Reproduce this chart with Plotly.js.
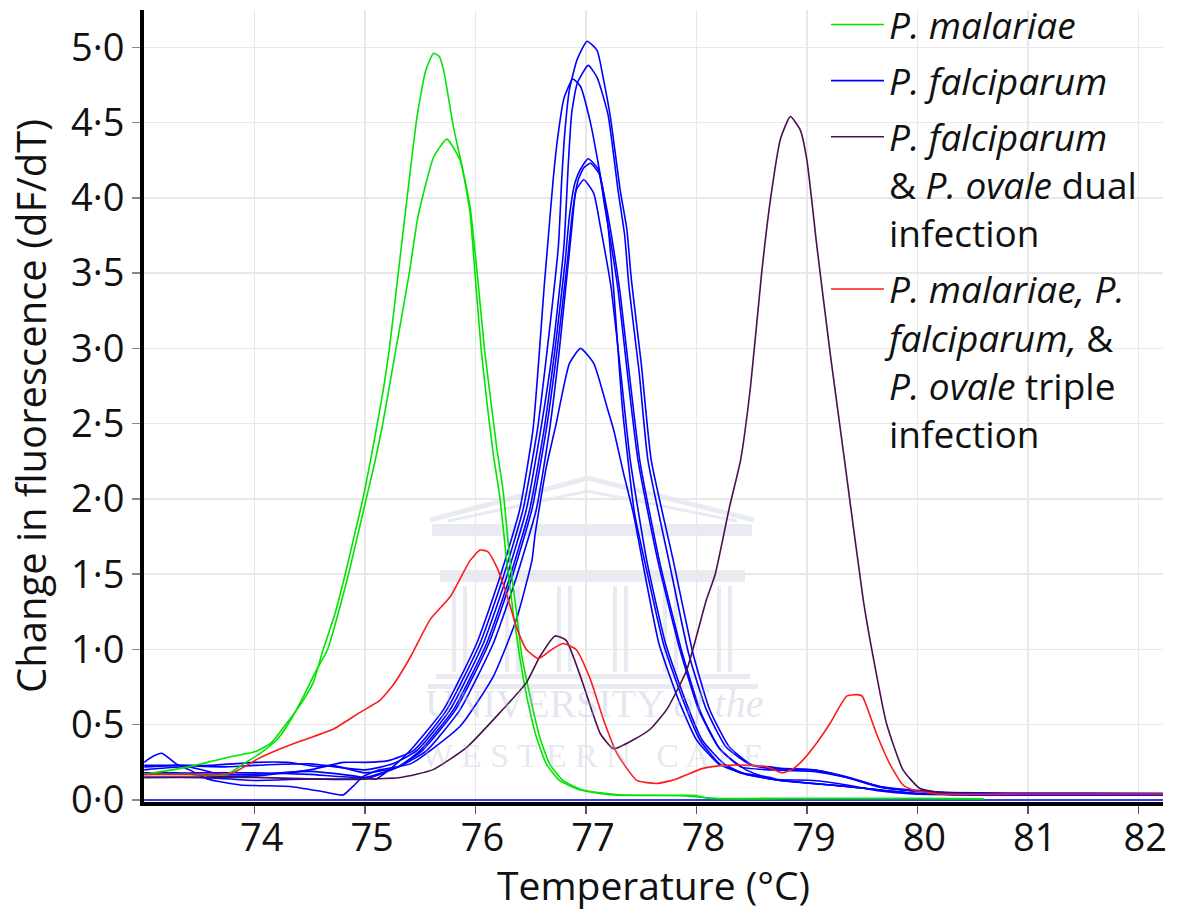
<!DOCTYPE html>
<html>
<head>
<meta charset="utf-8">
<script src="https://cdn.plot.ly/plotly-3.0.1.min.js"></script>
<style>html,body{margin:0;padding:0;background:#fff}#chart{width:1177px;height:911px}</style>
</head>
<body>
<div id="chart"></div>
<script>
// ---------- Data ----------
const xTicks = [74, 75, 76, 77, 78, 79, 80, 81, 82];
const xTickText = ['74', '75', '76', '77', '78', '79', '80', '81', '82'];
const yTicks = [0, 0.5, 1, 1.5, 2, 2.5, 3, 3.5, 4, 4.5, 5];
const yTickText = ['0·0', '0·5', '1·0', '1·5', '2·0', '2·5', '3·0', '3·5', '4·0', '4·5', '5·0'];

const seriesNames = [
  '<i>P. malariae</i>',
  '<i>P. falciparum</i>',
  '<i>P. falciparum</i><br>& <i>P. ovale</i> dual<br>infection',
  '<i>P. malariae, P.</i><br><i>falciparum,</i> &<br><i>P. ovale</i> triple<br>infection'
];

// P. malariae (green)
const malariae1X = [73.0,73.4,73.8,74.0,74.15,74.29,74.42,74.53,74.62,74.72,74.82,74.90,74.98,75.05,75.11,75.17,75.22,75.30,75.38,75.47,75.55,75.62,75.67,75.71,75.80,75.88,75.95,76.0,76.05,76.1,76.16,76.22,76.28,76.34,76.40,76.46,76.55,76.64,76.76,76.95,77.25,77.8,78.0,78.1,79.0,80.0,80.6];
const malariae1Y = [0.17,0.22,0.29,0.32,0.38,0.51,0.64,0.78,1.00,1.22,1.50,1.75,2.00,2.26,2.50,2.75,3.00,3.50,4.00,4.54,4.85,4.96,4.94,4.85,4.47,4.20,3.90,3.45,3.00,2.66,2.30,2.01,1.60,1.25,0.95,0.70,0.42,0.24,0.13,0.066,0.033,0.03,0.03,0.012,0.01,0.01,0.008];
const malariae2X = [73.0,73.4,73.75,73.9,74.05,74.2,74.3,74.45,74.55,74.66,74.76,74.85,74.93,75.01,75.09,75.16,75.22,75.28,75.40,75.48,75.62,75.74,75.86,75.95,76.02,76.08,76.13,76.19,76.25,76.31,76.37,76.42,76.49,76.58,76.67,76.79,76.97,77.3,77.85,78.0,78.2,79.0,80.0,80.6];
const malariae2Y = [0.17,0.17,0.17,0.24,0.31,0.40,0.50,0.70,0.85,1.00,1.25,1.50,1.75,2.00,2.25,2.50,2.75,3.00,3.50,3.88,4.27,4.39,4.25,3.94,3.46,3.00,2.70,2.35,2.05,1.60,1.25,0.95,0.70,0.42,0.24,0.13,0.066,0.035,0.03,0.02,0.01,0.01,0.01,0.008];

// P. falciparum (blue) - individual runs
const falcZeroX = [73.0, 82.3];
const falcZeroY = [0.0, 0.0];
const falc1X = [73.0,73.3,73.6,74.0,74.3,74.6,74.8,75.0,75.2,75.44,75.74,76.04,76.25,76.43,76.56,76.65,76.75,76.78,76.81,76.85,76.92,77.01,77.10,77.16,77.22,77.31,77.37,77.41,77.50,77.59,77.79,77.97,78.12,78.30,78.51,78.67,78.76,79.06,79.36,79.66,79.96,80.27,80.7,81.5,82.3];
const falc1Y = [0.22,0.23,0.23,0.25,0.25,0.22,0.25,0.25,0.26,0.33,0.60,1.04,1.48,1.93,2.46,3.00,3.68,4.12,4.45,4.72,4.92,5.04,4.98,4.78,4.54,4.05,3.79,3.46,2.90,2.26,1.59,0.97,0.60,0.35,0.23,0.22,0.21,0.20,0.155,0.09,0.066,0.05,0.045,0.045,0.045];
const falc2X = [73.0,73.3,73.7,74.0,74.5,75.0,75.25,75.47,75.77,76.07,76.28,76.46,76.59,76.70,76.80,76.84,76.87,76.92,77.02,77.10,77.20,77.29,77.35,77.39,77.48,77.56,77.75,77.93,78.09,78.27,78.50,78.67,79.06,79.36,79.66,79.96,80.27,80.8,81.5,82.3];
const falc2Y = [0.23,0.23,0.22,0.23,0.24,0.20,0.24,0.33,0.60,1.04,1.48,1.93,2.46,3.00,3.68,4.23,4.56,4.76,4.88,4.80,4.55,4.05,3.75,3.40,2.85,2.26,1.59,0.97,0.60,0.35,0.23,0.21,0.20,0.15,0.085,0.06,0.05,0.045,0.045,0.04];
const falc3X = [73.0,73.4,73.7,74.0,74.5,74.9,75.1,75.25,75.41,75.71,76.01,76.22,76.40,76.52,76.58,76.62,76.66,76.70,76.74,76.80,76.88,76.95,77.04,77.11,77.19,77.25,77.33,77.44,77.53,77.70,77.88,78.03,78.21,78.42,78.67,78.76,79.36,79.96,80.5,81.5,82.3];
const falc3Y = [0.20,0.22,0.17,0.17,0.19,0.16,0.14,0.22,0.33,0.60,1.04,1.48,1.93,2.46,3.00,3.40,3.75,4.10,4.38,4.66,4.79,4.74,4.50,4.23,3.88,3.39,2.60,1.90,1.59,1.04,0.66,0.40,0.24,0.18,0.15,0.13,0.09,0.045,0.035,0.035,0.035];
const falc4X = [73.0,73.5,74.0,74.5,75.0,75.3,75.50,75.80,76.10,76.31,76.49,76.62,76.72,76.81,76.85,76.90,76.95,77.02,77.11,77.17,77.23,77.29,77.38,77.47,77.65,77.85,78.02,78.20,78.40,78.67,79.06,79.36,79.66,79.96,80.4,81.5,82.3];
const falc4Y = [0.17,0.18,0.18,0.17,0.15,0.22,0.33,0.60,1.04,1.48,1.93,2.46,3.00,3.57,3.88,4.10,4.19,4.26,4.19,3.94,3.68,3.39,2.80,2.26,1.59,1.00,0.60,0.35,0.22,0.20,0.19,0.15,0.09,0.06,0.045,0.04,0.04];
const falc5X = [73.0,73.5,74.0,74.5,75.0,75.3,75.52,75.82,76.12,76.33,76.51,76.64,76.74,76.83,76.88,76.93,76.98,77.04,77.12,77.19,77.25,77.31,77.40,77.49,77.67,77.87,78.04,78.22,78.45,78.67,79.06,79.36,79.66,79.96,80.4,81.5,82.3];
const falc5Y = [0.15,0.15,0.13,0.14,0.14,0.22,0.33,0.60,1.04,1.48,1.93,2.46,3.00,3.57,3.92,4.12,4.20,4.23,4.16,3.92,3.66,3.36,2.78,2.24,1.57,0.98,0.58,0.33,0.20,0.14,0.13,0.10,0.06,0.04,0.035,0.035,0.035];
const falc6X = [73.0,73.3,73.6,74.0,74.5,74.7,75.0,75.3,75.56,75.86,76.16,76.37,76.55,76.67,76.76,76.87,76.91,76.98,77.07,77.13,77.19,77.23,77.32,77.40,77.55,77.72,77.90,78.05,78.25,78.45,78.67,78.76,79.36,79.96,80.5,81.5,82.3];
const falc6Y = [0.18,0.18,0.16,0.16,0.20,0.23,0.18,0.22,0.33,0.60,1.04,1.48,1.93,2.46,3.00,3.79,4.05,4.12,4.03,3.81,3.57,3.39,2.80,2.26,1.59,1.04,0.66,0.40,0.24,0.17,0.14,0.13,0.09,0.045,0.035,0.035,0.035];
const falc7X = [73.0,73.08,73.16,73.29,73.41,73.57,73.87,74.32,74.62,74.80,74.89,74.98,75.13,75.41,75.86,76.16,76.37,76.51,76.54,76.64,76.73,76.76,76.85,76.95,77.07,77.19,77.25,77.34,77.43,77.51,77.66,77.84,78.00,78.20,78.40,78.67,78.76,79.36,79.96,80.5,81.5,82.3];
const falc7Y = [0.25,0.29,0.31,0.24,0.20,0.14,0.10,0.09,0.055,0.033,0.09,0.155,0.20,0.24,0.49,0.82,1.20,1.59,1.77,2.21,2.50,2.61,2.90,3.00,2.90,2.61,2.46,2.17,1.90,1.59,1.04,0.66,0.40,0.24,0.18,0.14,0.13,0.09,0.045,0.035,0.035,0.035];

// P. falciparum & P. ovale dual infection (purple)
const dualX = [73.0,73.5,74.0,74.5,75.0,75.32,75.61,75.92,76.22,76.46,76.58,76.72,76.82,76.95,77.05,77.13,77.25,77.43,77.58,77.73,77.91,78.09,78.17,78.30,78.40,78.49,78.59,78.67,78.76,78.85,78.94,79.0,79.09,79.21,79.34,79.51,79.60,79.72,79.87,80.02,80.2,80.6,81.5,82.3];
const dualY = [0.15,0.15,0.15,0.14,0.14,0.15,0.20,0.35,0.58,0.78,0.95,1.09,1.06,0.82,0.60,0.44,0.34,0.40,0.47,0.60,0.86,1.33,1.50,1.95,2.26,2.75,3.50,3.99,4.39,4.54,4.45,4.25,3.68,2.97,2.26,1.33,0.95,0.51,0.20,0.078,0.05,0.04,0.04,0.04];

// P. malariae, P. falciparum & P. ovale triple infection (red)
const tripleX = [73.0,73.5,73.8,74.02,74.2,74.41,74.71,74.95,75.13,75.25,75.41,75.59,75.77,75.95,76.04,76.11,76.19,76.28,76.37,76.46,76.57,76.67,76.79,76.91,77.04,77.16,77.28,77.46,77.64,77.82,78.06,78.27,78.50,78.64,78.78,78.88,78.97,79.09,79.21,79.36,79.45,79.50,79.63,79.75,79.87,79.96,80.2,81.0,82.3];
const tripleY = [0.17,0.17,0.18,0.27,0.33,0.39,0.47,0.58,0.66,0.76,0.95,1.20,1.35,1.59,1.66,1.65,1.55,1.37,1.15,1.00,0.94,0.99,1.04,1.00,0.80,0.53,0.31,0.13,0.11,0.14,0.21,0.23,0.23,0.22,0.18,0.21,0.27,0.38,0.51,0.69,0.70,0.69,0.44,0.24,0.10,0.066,0.04,0.04,0.04];

// ---------- Styles ----------
const GREEN = '#00e400', BLUE = '#0000ff', PURPLE = '#4b0f4f', RED = '#ff1a1a';
const FONT = '"Open Sans", Lato, sans-serif';

function line(x, y, color, group, name, show, rank) {
  return {x: x, y: y, type: 'scatter', mode: 'lines',
          line: {color: color, width: 1.6, shape: 'spline', smoothing: 0.5},
          legendgroup: group, name: name, showlegend: show, legendrank: rank, hoverinfo: 'skip'};
}

const traces = [
  line(falcZeroX, falcZeroY, BLUE, 'falc', seriesNames[1], false, 2),
  line(falc1X, falc1Y, BLUE, 'falc', seriesNames[1], true, 2),
  line(falc2X, falc2Y, BLUE, 'falc', seriesNames[1], false, 2),
  line(falc3X, falc3Y, BLUE, 'falc', seriesNames[1], false, 2),
  line(falc4X, falc4Y, BLUE, 'falc', seriesNames[1], false, 2),
  line(falc5X, falc5Y, BLUE, 'falc', seriesNames[1], false, 2),
  line(falc6X, falc6Y, BLUE, 'falc', seriesNames[1], false, 2),
  line(falc7X, falc7Y, BLUE, 'falc', seriesNames[1], false, 2),
  line(malariae1X, malariae1Y, GREEN, 'mal', seriesNames[0], true, 1),
  line(malariae2X, malariae2Y, GREEN, 'mal', seriesNames[0], false, 1),
  line(dualX, dualY, PURPLE, 'dual', seriesNames[2], true, 3),
  line(tripleX, tripleY, RED, 'triple', seriesNames[3], true, 4)
];

// ---------- Faint watermark (decorative, in paper coordinates) ----------
const L = 144, T = 10, W = 1019, H = 792;
const px = v => (v - L) / W, py = v => (T + H - v) / H;
const wm = 'rgba(170,176,205,0.26)';
const shapes = [];
shapes.push({type: 'path', xref: 'paper', yref: 'paper', layer: 'below',
  path: `M${px(430)},${py(520)} L${px(588)},${py(478)} L${px(754)},${py(520)}`,
  line: {color: wm, width: 5}});
shapes.push({type: 'path', xref: 'paper', yref: 'paper', layer: 'below',
  path: `M${px(448)},${py(521)} L${px(588)},${py(491)} L${px(737)},${py(521)}`,
  line: {color: wm, width: 3}});
shapes.push({type: 'rect', xref: 'paper', yref: 'paper', layer: 'below',
  x0: px(432), x1: px(752), y0: py(524), y1: py(536), fillcolor: wm, line: {width: 0}});
shapes.push({type: 'rect', xref: 'paper', yref: 'paper', layer: 'below',
  x0: px(440), x1: px(745), y0: py(570), y1: py(582), fillcolor: wm, line: {width: 0}});
[452, 505, 557, 613, 663, 717].forEach(c => {
  shapes.push({type: 'rect', xref: 'paper', yref: 'paper', layer: 'below',
    x0: px(c), x1: px(c + 4), y0: py(586), y1: py(672), fillcolor: wm, line: {width: 0}});
  shapes.push({type: 'rect', xref: 'paper', yref: 'paper', layer: 'below',
    x0: px(c + 11), x1: px(c + 15), y0: py(586), y1: py(672), fillcolor: wm, line: {width: 0}});
});
shapes.push({type: 'rect', xref: 'paper', yref: 'paper', layer: 'below',
  x0: px(436), x1: px(750), y0: py(674), y1: py(679), fillcolor: wm, line: {width: 0}});
shapes.push({type: 'rect', xref: 'paper', yref: 'paper', layer: 'below',
  x0: px(428), x1: px(758), y0: py(684), y1: py(689), fillcolor: wm, line: {width: 0}});

const annotations = [
  {text: 'UNIVERSITY <i>of the</i>', xref: 'paper', yref: 'paper', x: px(594), y: py(728),
   showarrow: false, font: {family: '"Liberation Serif", "DejaVu Serif", serif', size: 40, color: 'rgba(170,176,205,0.32)'}},
  {text: 'W E S T E R N   C A P E', xref: 'paper', yref: 'paper', x: px(592), y: py(776),
   showarrow: false, font: {family: '"Liberation Serif", "DejaVu Serif", serif', size: 34, color: 'rgba(170,176,205,0.30)'}}
];

const layout = {
  width: 1177, height: 911,
  margin: {l: L, r: 1177 - L - W, t: T, b: 911 - T - H, autoexpand: false},
  paper_bgcolor: '#ffffff', plot_bgcolor: '#ffffff',
  font: {family: FONT, color: '#111111', size: 36},
  showlegend: true,
  legend: {x: 0.6693, y: py(-6), xref: 'paper', yref: 'paper', xanchor: 'left', yanchor: 'top',
           bgcolor: 'rgba(0,0,0,0)', font: {family: FONT, size: 37, color: '#111111'}, valign: 'top',
           traceorder: 'grouped', tracegroupgap: 5, itemwidth: 53},
  xaxis: {range: [72.998, 82.224], tickmode: 'array', tickvals: xTicks, ticktext: xTickText,
          showgrid: true, gridcolor: '#e8e8e8', gridwidth: 1.5, zeroline: false,
          showline: true, linecolor: '#000000', linewidth: 4, layer: 'below traces',
          ticks: 'outside', ticklen: 8, tickwidth: 1.5, tickcolor: '#555555',
          ticklabelstandoff: -9, ticklabelshift: 7,
          tickfont: {family: FONT, size: 38, color: '#111111'},
          title: {text: 'Temperature (°C)', font: {family: FONT, size: 39, color: '#111111'}, standoff: 12}},
  yaxis: {range: [-0.0133, 5.248], tickmode: 'array', tickvals: yTicks, ticktext: yTickText,
          showgrid: true, gridcolor: '#e8e8e8', gridwidth: 1.5, zeroline: false,
          showline: true, linecolor: '#000000', linewidth: 4, layer: 'below traces',
          ticks: 'outside', ticklen: 8, tickwidth: 1.5, tickcolor: '#888888',
          tickfont: {family: FONT, size: 38, color: '#111111'},
          title: {text: 'Change in fluorescence (dF/dT)', font: {family: FONT, size: 40, color: '#111111'}, standoff: 13}},
  shapes: shapes,
  annotations: annotations
};

Plotly.newPlot('chart', traces, layout, {displayModeBar: false, staticPlot: true});
</script>
</body>
</html>
